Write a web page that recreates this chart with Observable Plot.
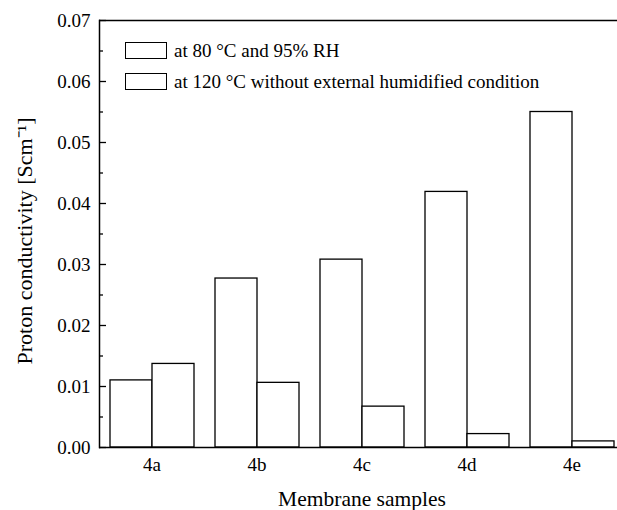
<!DOCTYPE html>
<html>
<head>
<meta charset="utf-8">
<script src="https://cdn.jsdelivr.net/npm/d3@7"></script>
<script src="https://cdn.jsdelivr.net/npm/@observablehq/plot@0.6"></script>
<style>
  html, body { margin: 0; padding: 0; background: #fff; overflow: hidden; }
  #wrap { position: relative; width: 617px; height: 510px; overflow: hidden; font-family: "Liberation Serif", "Times New Roman", serif; }
  #wrap svg { max-width: none !important; }
  .legend { position: absolute; left: 125px; top: 35px; font-size: 19px; color: #000; }
  .legend .row { display: flex; align-items: center; height: 31px; white-space: nowrap; }
  .legend .sw { width: 42px; height: 17px; border: 1.3px solid #000; background: #fff; margin-right: 7px; box-sizing: border-box; }
</style>
</head>
<body>
<div id="wrap"></div>
<script>
// ---- data ----
const samples = ["4a", "4b", "4c", "4d", "4e"];
const conditions = ["at 80 °C and 95% RH", "at 120 °C without external humidified condition"];
const cond80 = [0.0110, 0.0277, 0.0308, 0.0419, 0.0550];
const cond120 = [0.0137, 0.0106, 0.0067, 0.0022, 0.0010];
const yTicks = [0, 0.01, 0.02, 0.03, 0.04, 0.05, 0.06, 0.07];
const yMinorTicks = [0.005, 0.015, 0.025, 0.035, 0.045, 0.055, 0.065];
const yTitle = "Proton conductivity [Scm⁻¹]";
const xTitle = "Membrane samples";

const rows = [];
samples.forEach((s, i) => {
  rows.push({sample: s, cond: conditions[0], value: cond80[i]});
  rows.push({sample: s, cond: conditions[1], value: cond120[i]});
});

const font = '"Liberation Serif", "Times New Roman", serif';
const firstFacet = () => samples[0];

const chart = Plot.plot({
  width: 631,
  height: 510,
  marginLeft: 99,
  marginRight: 7,
  marginTop: 20,
  marginBottom: 63,
  style: {fontFamily: font, fontSize: "19px", color: "#000", background: "#fff"},
  fx: {domain: samples, paddingInner: 0, paddingOuter: 0, label: null},
  x: {domain: conditions, paddingInner: 0, paddingOuter: 0.25, axis: null},
  y: {domain: [0, 0.07], axis: null},
  marks: [
    Plot.barY(rows, {fx: "sample", x: "cond", y: "value", fill: "#fff", stroke: "#000", strokeWidth: 1.3}),
    Plot.ruleY([0, 0.07], {stroke: "#000", strokeWidth: 1.5}),
    Plot.frame({anchor: "left", facetAnchor: "left", stroke: "#000", strokeWidth: 1.5}),
    Plot.tickY(yTicks, {y: d => d, fx: firstFacet, insetRight: 98, stroke: "#000", strokeWidth: 1.3}),
    Plot.tickY(yMinorTicks, {y: d => d, fx: firstFacet, insetRight: 101, stroke: "#000", strokeWidth: 1.3}),
    Plot.axisY(yTicks, {anchor: "left", tickSize: 0, tickPadding: 9, tickFormat: d3.format(".2f"), label: null, fontSize: 19}),
    Plot.text([yTitle], {fx: firstFacet, text: d => d, frameAnchor: "left", rotate: -90, textAnchor: "middle", lineAnchor: "bottom", dx: -68, dy: 7, fontSize: 22, fill: "#000"}),
    Plot.axisFx({anchor: "bottom", tickSize: 0, tickPadding: 10, label: null, fontSize: 19}),
    Plot.axisFx({anchor: "bottom", tickSize: 0, tickFormat: () => "", label: xTitle, labelAnchor: "center", labelOffset: 58, labelArrow: "none", fontSize: 21.5, dx: 3})
  ]
});

const wrap = document.getElementById("wrap");
wrap.appendChild(chart);

const legend = document.createElement("div");
legend.className = "legend";
conditions.forEach(c => {
  const row = document.createElement("div");
  row.className = "row";
  const sw = document.createElement("span");
  sw.className = "sw";
  const t = document.createElement("span");
  t.textContent = c;
  row.appendChild(sw);
  row.appendChild(t);
  legend.appendChild(row);
});
wrap.appendChild(legend);
</script>
</body>
</html>
